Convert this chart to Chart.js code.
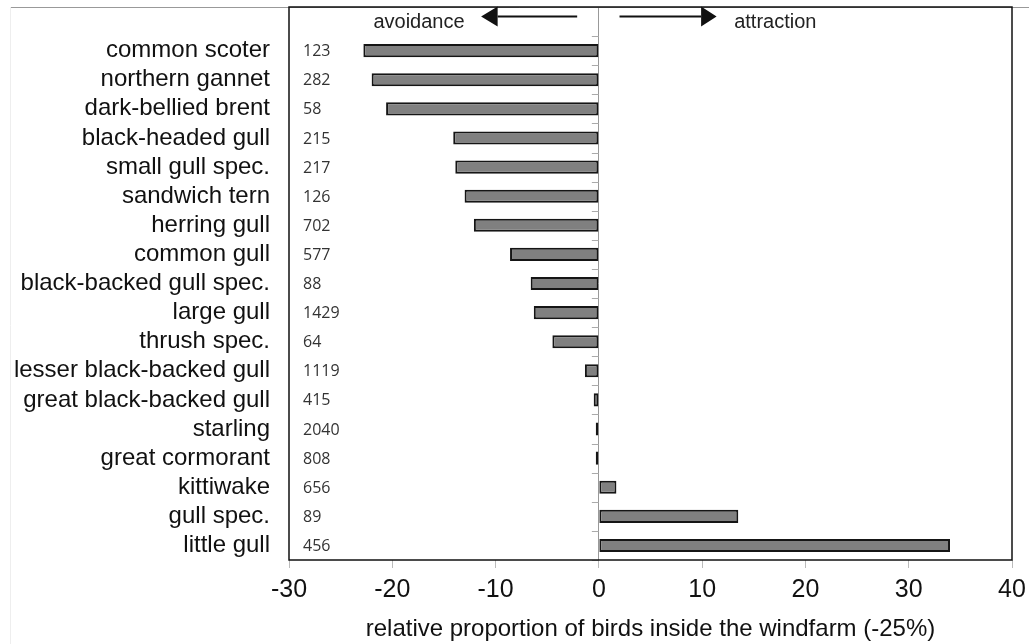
<!DOCTYPE html>
<html>
<head>
<meta charset="utf-8">
<script src="https://cdn.jsdelivr.net/npm/chart.js@4.4.1/dist/chart.umd.min.js"></script>
<style>
  body { margin: 0; background: #fff; }
</style>
</head>
<body>
<canvas id="birds" width="1029" height="644"></canvas>
<script>
var species = ['common scoter', 'northern gannet', 'dark-bellied brent', 'black-headed gull',
    'small gull spec.', 'sandwich tern', 'herring gull', 'common gull', 'black-backed gull spec.',
    'large gull', 'thrush spec.', 'lesser black-backed gull', 'great black-backed gull',
    'starling', 'great cormorant', 'kittiwake', 'gull spec.', 'little gull'];
var counts = [123, 282, 58, 215, 217, 126, 702, 577, 88, 1429, 64, 1119, 415, 2040, 808, 656, 89, 456];
var proportion = [-22.8, -22.0, -20.6, -14.1, -13.9, -13.0, -12.1, -8.6, -6.6, -6.3, -4.5,
    -1.35, -0.5, -0.3, -0.3, 1.7, 13.5, 34.0];
var xTicks = [-30, -20, -10, 0, 10, 20, 30, 40];

// empty top row leaves room for the avoidance / attraction arrows
var labels = [''].concat(species);
var values = [null].concat(proportion);

Chart.defaults.font.family = '"Liberation Sans", Arial, sans-serif';
Chart.defaults.color = '#111';

var extras = {
    id: 'extras',
    beforeDatasetsDraw: function(chart) {
        var c = chart.ctx, x = chart.scales.x, y = chart.scales.y;
        var x0 = x.getPixelForValue(0);
        var half = (y.getPixelForValue(1) - y.getPixelForValue(0)) / 2;
        c.save();
        c.strokeStyle = '#aaa';
        c.lineWidth = 1;
        for (var i = 0; i <= labels.length; i++) {
            var yy = Math.round(y.getPixelForValue(i) - half) + 0.5;
            c.beginPath();
            c.moveTo(x0 - 7, yy);
            c.lineTo(x0, yy);
            c.stroke();
        }
        c.restore();
    },
    afterDraw: function(chart) {
        var c = chart.ctx, a = chart.chartArea, x = chart.scales.x, y = chart.scales.y;
        c.save();
        // faint page frame
        c.strokeStyle = '#999';
        c.lineWidth = 1;
        c.beginPath();
        c.moveTo(10, 7.5);
        c.lineTo(chart.width, 7.5);
        c.stroke();
        c.strokeStyle = '#eee';
        c.beginPath();
        c.moveTo(10.5, 7);
        c.lineTo(10.5, chart.height);
        c.stroke();

        // plot box
        c.strokeStyle = '#111';
        c.lineWidth = 1.5;
        c.strokeRect(a.left, a.top, a.right - a.left, a.bottom - a.top);

        // sample sizes
        c.fillStyle = '#333';
        c.font = '16px "Open Sans", sans-serif';
        c.textAlign = 'left';
        c.textBaseline = 'middle';
        for (var i = 0; i < counts.length; i++) {
            c.fillText(String(counts[i]), a.left + 14, y.getPixelForValue(i + 1) + 1);
        }

        // arrows
        var ty = y.getPixelForValue(0) - 5;
        c.strokeStyle = '#111';
        c.fillStyle = '#111';
        c.lineWidth = 2;
        c.beginPath();
        c.moveTo(x.getPixelForValue(-2.1), ty);
        c.lineTo(x.getPixelForValue(-9.8), ty);
        c.moveTo(x.getPixelForValue(2.0), ty);
        c.lineTo(x.getPixelForValue(9.9), ty);
        c.stroke();
        c.beginPath();
        c.moveTo(x.getPixelForValue(-11.4), ty);
        c.lineTo(x.getPixelForValue(-9.8), ty - 10);
        c.lineTo(x.getPixelForValue(-9.8), ty + 10);
        c.closePath();
        c.moveTo(x.getPixelForValue(11.4), ty);
        c.lineTo(x.getPixelForValue(9.9), ty - 10);
        c.lineTo(x.getPixelForValue(9.9), ty + 10);
        c.closePath();
        c.fill();

        c.fillStyle = '#222';
        c.font = '20px "Liberation Sans", Arial, sans-serif';
        c.textBaseline = 'middle';
        c.textAlign = 'right';
        c.fillText('avoidance', x.getPixelForValue(-13.0), ty + 6);
        c.textAlign = 'left';
        c.fillText('attraction', x.getPixelForValue(13.1), ty + 6);
        c.restore();
    }
};

new Chart(document.getElementById('birds'), {
    type: 'bar',
    data: {
        labels: labels,
        datasets: [{
            data: values,
            backgroundColor: '#808080',
            borderColor: '#151515',
            borderWidth: 2,
            borderSkipped: false,
            barPercentage: 0.45,
            categoryPercentage: 1
        }]
    },
    options: {
        indexAxis: 'y',
        responsive: false,
        animation: false,
        layout: { padding: { top: 7, right: 17, left: 0, bottom: 0 } },
        plugins: {
            legend: { display: false },
            tooltip: { enabled: false }
        },
        scales: {
            x: {
                min: -30,
                max: 40,
                afterFit: function(s) {
                    s.height = 84;
                    s.paddingLeft = 0;
                    s.paddingRight = 0;
                },
                afterBuildTicks: function(s) {
                    s.ticks = xTicks.map(function(v) { return { value: v }; });
                },
                border: { display: false },
                grid: {
                    color: function(ctx) { return ctx.tick && ctx.tick.value === 0 ? '#999' : 'rgba(0,0,0,0)'; },
                    tickColor: '#bbb',
                    tickLength: 8
                },
                ticks: {
                    font: { size: 25 },
                    color: '#111',
                    padding: 7,
                    maxRotation: 0
                },
                title: {
                    display: true,
                    text: 'relative proportion of birds inside the windfarm (-25%)',
                    font: { size: 24 },
                    color: '#111',
                    padding: { top: 0, bottom: 0 }
                }
            },
            y: {
                afterFit: function(s) {
                    s.width = 289;
                    s.paddingTop = 0;
                    s.paddingBottom = 0;
                },
                border: { display: false },
                grid: { display: false, drawTicks: false },
                ticks: {
                    font: { size: 24 },
                    color: '#111',
                    padding: 19,
                    autoSkip: false
                }
            }
        }
    },
    plugins: [extras]
});
</script>
</body>
</html>
